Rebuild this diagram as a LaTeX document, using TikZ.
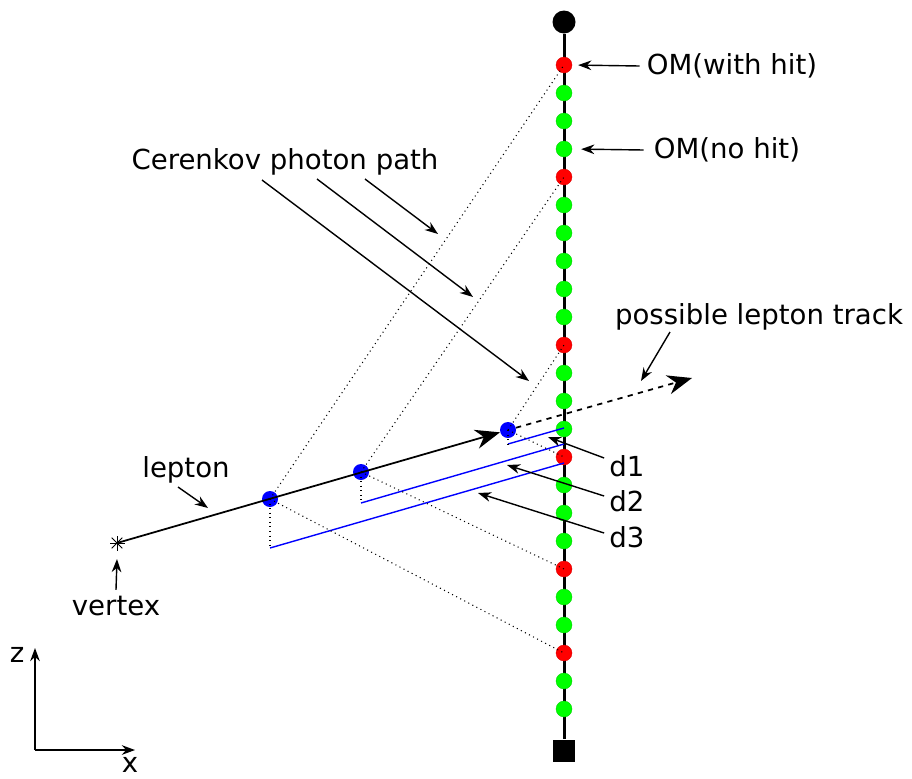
\documentclass[tikz,border=0pt]{standalone}
\usepackage{fontspec}
\setmainfont{DejaVu Sans}
\usetikzlibrary{arrows.meta,positioning,calc}
\definecolor{hitred}  {HTML}{FF0000}
\definecolor{nohit}   {HTML}{00FF00}
\definecolor{stepblue}{HTML}{0000FF}

\begin{document}
\begin{tikzpicture}[x=0.02cm, y=-0.02cm,
    om/.style={circle, inner sep=0pt, minimum size=0.32cm, fill=nohit, draw=nohit!80!black, line width=0.2pt},
    hitom/.style={om, fill=hitred, draw=hitred!85!black},
    emit/.style={circle, inner sep=0pt, minimum size=0.32cm, fill=stepblue},
    lbl/.style={font=\fontsize{15.7}{18}\selectfont, inner sep=0pt},
    photon/.style={dotted, line width=0.6pt},
    dist/.style={stepblue, line width=0.8pt},
    pointer/.style={-{Stealth[length=7.5pt, width=5.5pt]}, line width=0.8pt},
    track/.style={-{Stealth[length=14pt, width=11pt, inset=4.5pt]}, line width=1pt}]
        \useasboundingbox (0,0) rectangle (912,778);
        % string with top buoy and anchor
        \node[circle, fill=black, inner sep=0pt, minimum size=0.46cm] (buoy) at (564,22) {};
        \node[fill=black, inner sep=0pt, minimum size=0.45cm] (anchor) at (564,751) {};
        \draw[line width=1.7pt] (buoy) -- (anchor);
        \foreach \i in {1,2,3,5,6,7,8,9,11,12,13,15,16,17,19,20,22,23}
          \node[om] (om\i) at (564,65+28*\i) {};
        \foreach \i in {0,4,10,14,18,21}
          \node[hitom] (om\i) at (564,65+28*\i) {};
        % lepton from the vertex
        \coordinate (vtx) at (117,543);
        \foreach \a in {0,45,90,135}
          \draw[line width=0.5pt] ($(vtx)+(\a:7.5)$) -- ($(vtx)+(\a+180:7.5)$);
        \node[emit] (b1) at (270,499) {};
        \node[emit] (b2) at (361,472) {};
        \node[emit] (b3) at (508,430) {};
        \draw[track] (vtx) -- (b3);
        \coordinate (trackend) at (692,378);
        \draw[track, dashed] (b3) -- (trackend);
        % distances to the string
        \coordinate (f1) at (270,548);
        \coordinate (f2) at (361,503);
        \coordinate (f3) at (508,444);
        \coordinate (s1) at (564,428);
        \coordinate (s2) at (564,444);
        \coordinate (s3) at (564,463);
        \draw[dist] (f3) -- (s1);
        \draw[dist] (f2) -- (s2);
        \draw[dist] (f1) -- (s3);
        \draw[photon] (b1.center) -- (f1);
        \draw[photon] (b2.center) -- (f2);
        \draw[photon] (b3.center) -- (f3);
        % photon paths to the hit OMs
        \draw[photon] (b1.center) -- (om0.center);
        \draw[photon] (b1.center) -- (om21.center);
        \draw[photon] (b2.center) -- (om4.center);
        \draw[photon] (b2.center) -- (om18.center);
        \draw[photon] (b3.center) -- (om10.center);
        \draw[photon] (b3.center) -- (om14.center);
        % labels
        \node[lbl] (withhit) at (732,66) {OM(with hit)};
        \node[lbl] (nohitlbl) at (727,150) {OM(no hit)};
        \node[lbl] (cerenkov) at (285,162) {Cerenkov photon path};
        \node[lbl] (possible) at (759,317) {possible lepton track};
        \node[lbl] (lepton) at (186,470) {lepton};
        \node[lbl] (vertex) at (116,606) {vertex};
        \node[lbl] (d1) at (627,466) {d1};
        \node[lbl] (d2) at (627,501) {d2};
        \node[lbl] (d3) at (627,537) {d3};
        % pointers
        \draw[pointer, shorten >=0.12cm] (withhit.west) ++(-7,0) -- (om0.east);
        \draw[pointer, shorten >=0.18cm] (nohitlbl.west) ++(-10,0) -- (om3.east);
        \coordinate (c1) at (262,180); \coordinate (p1) at (529,381);
        \coordinate (c2) at (317,179); \coordinate (p2) at (473,297);
        \coordinate (c3) at (365,179); \coordinate (p3) at (438,234);
        \draw[pointer] (c1) -- (p1);
        \draw[pointer] (c2) -- (p2);
        \draw[pointer] (c3) -- (p3);
        \coordinate (pt) at (670,332); \coordinate (pt') at (641,381);
        \draw[pointer] (pt) -- (pt');
        \coordinate (lp) at (178,487); \coordinate (lp') at (208,508);
        \draw[pointer] (lp) -- (lp');
        \draw[pointer] (vertex.north) ++(0,-6) -- ($(vtx)+(0,16)$);
        \coordinate (q1) at (548,437); \coordinate (q2) at (507,465); \coordinate (q3) at (478,493);
        \draw[pointer] (d1.west) ++(-5,-8) -- (q1);
        \draw[pointer] (d2.west) ++(-5,-5) -- (q2);
        \draw[pointer] (d3.west) ++(-5,-4) -- (q3);
        % axes
        \coordinate (origin) at (35,750);
        \draw[pointer] (origin) -- ++(0,-102) coordinate (zend);
        \draw[pointer] (origin) -- ++(100,0) coordinate (xend);
        \node[lbl] (zlbl) at (17,655) {z};
        \node[lbl] (xlbl) at (130,765) {x};
      \end{tikzpicture}
\end{document}
